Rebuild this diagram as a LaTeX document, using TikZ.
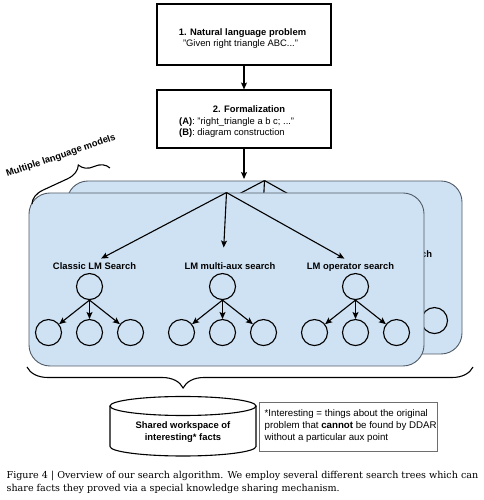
\documentclass[tikz,border=0pt]{standalone}
\usepackage{fontspec}
\setmainfont{Liberation Sans}
\newfontfamily\capfont{DejaVu Serif}
\usetikzlibrary{arrows.meta,decorations.pathreplacing}
\definecolor{panelfill}{RGB}{207,226,243}
\definecolor{panelline}{RGB}{80,90,102}
\definecolor{notegray}{RGB}{110,110,110}
\tikzset{
  txt/.style={inner sep=0pt, anchor=base, font=\fontsize{9.4}{11}\selectfont},
  btxt/.style={txt, font=\fontsize{9.4}{11}\selectfont\bfseries},
  ltxt/.style={txt, anchor=base west},
  ntxt/.style={inner sep=0pt, anchor=base west, font=\fontsize{9.7}{12}\selectfont},
  stepbox/.style={draw=black, line width=1.1pt, minimum width=174pt, inner sep=0pt},
  panel/.style={draw=panelline, fill=panelfill, line width=0.9pt, rounded corners=21pt,
    minimum width=395pt, minimum height=173pt, inner sep=0pt},
  circ/.style={circle, draw=black, line width=1.1pt, minimum size=26pt, inner sep=0pt},
  arr/.style={-{Stealth[length=7pt,width=6pt,inset=1.5pt]}, line width=1.1pt},
  bracestyle/.style={decorate, line width=1.1pt},
  stree/.pic={
    \coordinate (-apex) at (0,0);
    \node[btxt] (-t1) at (-132,-76.5) {Classic LM Search};
    \node[btxt] (-t2) at (3.5,-76.5) {LM multi-aux search};
    \node[btxt] (-t3) at (124,-76.5) {LM operator search};
    \draw[arr, shorten >=7.5pt] (-apex) -- (-t1.north);
    \draw[arr, shorten >=14.5pt] (-apex) -- ([xshift=-7pt]-t2.north);
    \draw[arr, shorten >=7pt] (-apex) -- (-t3.north);
    \foreach \i/\x in {1/-137, 2/-4, 3/129} {
      \node[circ] (-r\i) at (\x,-94) {};
      \node[circ] (-l\i a) at (\x-41,-140) {};
      \node[circ] (-l\i b) at (\x,-140) {};
      \node[circ] (-l\i c) at (\x+41,-140) {};
      \draw[arr] (-r\i.south) -- (-l\i a);
      \draw[arr] (-r\i.south) -- (-l\i b);
      \draw[arr] (-r\i.south) -- (-l\i c);
    }
  }
}
\begin{document}
\begin{tikzpicture}[x=1pt,y=1pt]
\fill[white] (0,0) rectangle (483,500);
\useasboundingbox (0,0) rectangle (483,500);

% box 1
\node[stepbox, minimum height=61pt] (nl) at (244,465.5) {};
\node[btxt] (nl1) at (242.5,464.8) {1. Natural language problem};
\node[txt] (nl2) at (240.5,453.2) {"Given right triangle ABC..."};

% box 2
\node[stepbox, minimum height=58pt] (fm) at (244,381) {};
\node[btxt] (fm1) at (249,387) {2. Formalization};
\node[ltxt] (fm2) at (179,375.5) {\textbf{(A)}: "right\_triangle a b c; ..."};
\node[ltxt] (fm3) at (179,364) {\textbf{(B)}: diagram construction};

\draw[arr] (nl.south) -- (fm.north);

% panels
\node[panel] (bp) at (264.5,232.5) {};
\pic (back) at (bp.north) {stree};
\node[panel] (fp) at (226.5,220.5) {};
\pic (front) at (fp.north) {stree};

\coordinate (inarrow) at (244,321);
\draw[arr] (fm.south) -- (inarrow);

% left brace
\coordinate (lb1) at (32,296);
\coordinate (lb2) at (110,332);
\draw[bracestyle, decoration={brace, amplitude=16pt, aspect=0.68}] (lb1) -- (lb2);
\node[btxt, anchor=center, rotate=19] (mlm) at (61,344) {Multiple language models};

% bottom brace
\coordinate (bb1) at (473,133);
\coordinate (bb2) at (27,133);
\draw[bracestyle, decoration={brace, amplitude=21pt, aspect=0.65}] (bb1) -- (bb2);

% cylinder
\draw[line width=1.1pt, fill=white] (110,94) -- (110,53.5)
  arc[start angle=180, end angle=360, x radius=73pt, y radius=9.5pt] -- (256,94);
\draw[line width=1.1pt] (183,94) ellipse [x radius=73pt, y radius=9.5pt];
\node[btxt] (ws1) at (183,71) {Shared workspace of};
\node[btxt] (ws2) at (183,59.2) {interesting* facts};

% note
\node[draw=notegray, line width=0.8pt, minimum width=178pt, minimum height=49pt, inner sep=0pt] (note) at (348,73.5) {};
\node[ntxt] (n1) at (264.5,83.5) {*Interesting = things about the original};
\node[ntxt] (n2) at (264.5,71.3) {problem that \textbf{cannot} be found by DDAR};
\node[ntxt] (n3) at (264.5,59.5) {without a particular aux point};

% caption
\node[inner sep=0pt, anchor=base west, font=\capfont\fontsize{9.55}{12}\selectfont] (cap1) at (6.5,21)
  {Figure 4 | Overview of our search algorithm. We employ several different search trees which can};
\node[inner sep=0pt, anchor=base west, font=\capfont\fontsize{9.55}{12}\selectfont] (cap2) at (6.5,8.3)
  {share facts they proved via a special knowledge sharing mechanism.};
\end{tikzpicture}
\end{document}
